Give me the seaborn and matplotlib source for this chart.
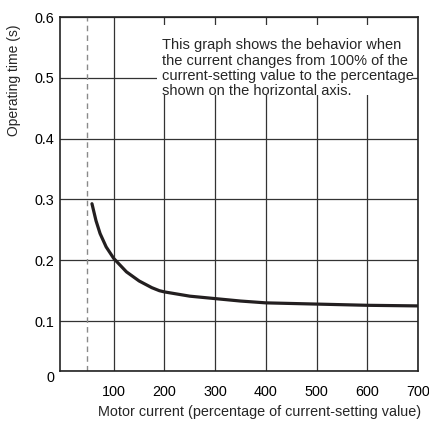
import matplotlib
matplotlib.use("Agg")
import matplotlib.pyplot as plt
from matplotlib.patches import Rectangle
import seaborn as sns
import pandas as pd

# operating time curve
motor_current = [57, 65, 73, 85, 100, 125, 150, 175, 190, 200, 250, 300, 350, 400, 500, 600, 700]
operating_time = [0.293, 0.265, 0.244, 0.222, 0.203, 0.181, 0.166, 0.155, 0.150, 0.148,
                  0.141, 0.137, 0.133, 0.130, 0.128, 0.126, 0.125]
x_ticks = [100, 200, 300, 400, 500, 600, 700]
y_ticks = [0.018, 0.1, 0.2, 0.3, 0.4, 0.5, 0.6]
y_tick_labels = ["0", "0.1", "0.2", "0.3", "0.4", "0.5", "0.6"]
threshold = 47
note = ("This graph shows the behavior when\n"
        "the current changes from 100% of the\n"
        "current-setting value to the percentage\n"
        "shown on the horizontal axis.")

sns.set_style("white")
plt.rcParams["font.family"] = ["Liberation Sans", "DejaVu Sans"]

df = pd.DataFrame({"current": motor_current, "time": operating_time})

fig = plt.figure(figsize=(4.29, 4.21), dpi=100)
ax = fig.add_axes([0.1399, 0.1188, 0.8345, 0.8408])

ax.grid(True, color="#333333", linewidth=0.9)
ax.set_axisbelow(True)
ax.axvline(threshold, color="#8a8a8a", linewidth=1.0, linestyle=(0, (4, 3)))
sns.lineplot(data=df, x="current", y="time", ax=ax, color="#231f20", linewidth=2.3)

ax.set_xlim(-6, 700)
ax.set_ylim(0.018, 0.6)
ax.set_xticks(x_ticks)
ax.set_yticks(y_ticks)
ax.set_yticklabels(y_tick_labels)
ax.tick_params(length=0, labelsize=10.4, colors="black")
ax.tick_params(axis="x", pad=10)
ax.tick_params(axis="y", pad=4)
ax.get_yticklabels()[0].set_va("top")
for s in ax.spines.values():
    s.set_color("#222222")
    s.set_linewidth(1.2)

ax.set_xlabel("Motor current (percentage of current-setting value)", fontsize=10.4)
ax.set_ylabel("Operating time (s)", fontsize=10)
ax.xaxis.set_label_coords(0.556, -0.095)
ax.yaxis.set_label_coords(-0.11, 0.82)

# white panel behind the note, hides the grid there
ax.add_patch(Rectangle((0.271, 0.78), 0.715, 0.197, transform=ax.transAxes,
                       facecolor="white", edgecolor="none", zorder=4))
ax.text(0.284, 0.94, note, transform=ax.transAxes, ha="left", va="top",
        fontsize=10.5, linespacing=1.12, zorder=5)

plt.savefig("out.png", dpi=100)
plt.close()
